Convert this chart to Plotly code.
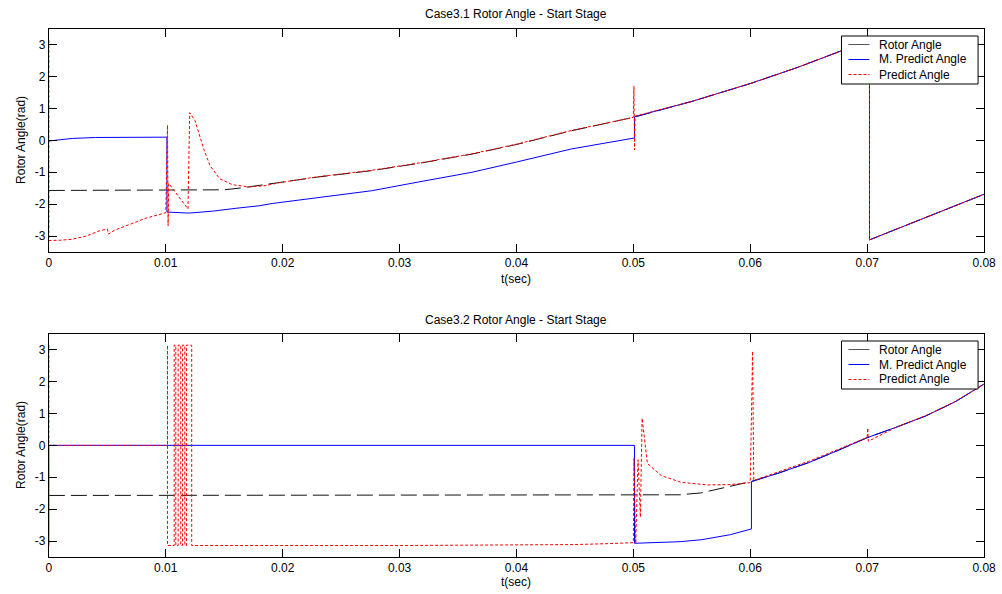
import plotly.graph_objects as go

# ---------------- data ----------------
x_ticks = [0, 0.01, 0.02, 0.03, 0.04, 0.05, 0.06, 0.07, 0.08]
x_tick_labels = ["0", "0.01", "0.02", "0.03", "0.04", "0.05", "0.06", "0.07", "0.08"]
y_ticks = [-3, -2, -1, 0, 1, 2, 3]
y_tick_labels = ["-3", "-2", "-1", "0", "1", "2", "3"]

series_names = ["Rotor Angle", "M. Predict Angle", "Predict Angle"]
titles = ["Case3.1 Rotor Angle - Start Stage", "Case3.2 Rotor Angle - Start Stage"]

# Case 3.1
c1_rotor_t = [0, 0.0140, 0.0150, 0.0165, 0.0180, 0.0191, 0.0200, 0.0230, 0.0276, 0.0320,
              0.0362, 0.0400, 0.0447, 0.0500, 0.0550, 0.0600, 0.0640, 0.0677, 0.0702, 0.0702,
              0.0750, 0.0800]
c1_rotor_v = [-1.571, -1.571, -1.55, -1.49, -1.41, -1.34, -1.30, -1.15, -0.95, -0.70,
              -0.43, -0.13, 0.30, 0.72, 1.22, 1.78, 2.28, 2.80, 3.14, -3.12,
              -2.42, -1.69]

c1_mpred_t = [0, 0.001, 0.002, 0.004, 0.0101, 0.0101, 0.0102, 0.0120, 0.0140, 0.0160,
              0.0180, 0.0191, 0.0230, 0.0276, 0.0320, 0.0362, 0.0400, 0.0447, 0.0501, 0.0501,
              0.0550, 0.0600, 0.0640, 0.0677, 0.0702, 0.0702, 0.0750, 0.0800]
c1_mpred_v = [-0.02, 0.03, 0.06, 0.09, 0.10, -2.24, -2.25, -2.28, -2.22, -2.13,
              -2.05, -1.98, -1.80, -1.58, -1.28, -1.00, -0.68, -0.27, 0.075, 0.74,
              1.22, 1.78, 2.28, 2.80, 3.14, -3.12, -2.42, -1.69]

c1_pred_t = [0, 0, 0.0010, 0.0020, 0.0032, 0.0043, 0.0050, 0.0051, 0.0056, 0.0069,
             0.0083, 0.0100, 0.01015, 0.0102, 0.01025, 0.0119, 0.01205, 0.0125, 0.0133, 0.0138,
             0.0146, 0.0157, 0.0171, 0.0185, 0.0197, 0.0230, 0.0276, 0.0320, 0.0362, 0.0400,
             0.0447, 0.0500, 0.05005, 0.0501, 0.05015, 0.0550, 0.0600, 0.0640, 0.0677, 0.0702,
             0.0702, 0.0750, 0.0800]
c1_pred_v = [3.14, -3.14, -3.13, -3.10, -3.00, -2.84, -2.78, -2.94, -2.82, -2.63,
             -2.44, -2.27, 0.48, -2.68, -1.35, -2.15, 0.87, 0.62, -0.33, -0.80,
             -1.20, -1.39, -1.46, -1.42, -1.33, -1.14, -0.94, -0.69, -0.42, -0.12,
             0.31, 0.72, 1.70, -0.30, 0.76, 1.22, 1.78, 2.28, 2.80, 3.14,
             -3.12, -2.42, -1.69]

# Case 3.2
c2_rotor_t = [0, 0.0520, 0.0540, 0.0558, 0.0569, 0.0583, 0.0600, 0.0625, 0.0650, 0.0675,
              0.0700, 0.0725, 0.0750, 0.0775, 0.0800]
c2_rotor_v = [-1.571, -1.571, -1.55, -1.49, -1.40, -1.28, -1.14, -0.86, -0.54, -0.16,
              0.24, 0.57, 0.92, 1.36, 1.92]

c2_mpred_t = [0, 0.0501, 0.0501, 0.0520, 0.0540, 0.0558, 0.0583, 0.0601, 0.0601, 0.0625,
              0.0650, 0.0675, 0.0700, 0.0725, 0.0750, 0.0775, 0.0800]
c2_mpred_v = [0, 0, -3.07, -3.05, -3.02, -2.96, -2.80, -2.62, -1.14, -0.86,
              -0.54, -0.16, 0.24, 0.57, 0.92, 1.36, 1.92]

c2_pred_t = [0, 0, 0, 0.01015, 0.01015, 0.01015, 0.01072, 0.01072, 0.01086, 0.01086,
             0.01106, 0.01106, 0.01128, 0.01128, 0.01143, 0.01143, 0.01163, 0.01163, 0.01177, 0.01177,
             0.01222, 0.01222, 0.0300, 0.0400, 0.0450, 0.0480, 0.0500, 0.05005, 0.0502, 0.0504,
             0.0506, 0.05075, 0.0512, 0.0524, 0.0541, 0.0564, 0.0583, 0.0600, 0.0602, 0.0603,
             0.0625, 0.0650, 0.0675, 0.0700, 0.07005, 0.0701, 0.0725, 0.0750, 0.0775, 0.0800]
c2_pred_v = [3.14, -3.14, 0, 0, 3.14, -3.14, -3.14, 3.14, 3.14, -3.14,
             -3.14, 3.14, 3.14, -3.14, -3.14, 3.14, 3.14, -3.14, -3.14, 3.14,
             3.14, -3.14, -3.14, -3.13, -3.11, -3.08, -3.05, -0.40, -3.08, -0.45,
             -2.25, 0.85, -0.57, -0.95, -1.16, -1.24, -1.23, -1.17, 2.95, -1.10,
             -0.83, -0.50, -0.13, 0.25, 0.54, 0.13, 0.57, 0.93, 1.37, 1.92]

# ---------------- figure ----------------
# The page renders the plot about 12 px narrower than layout.width, so the
# layout width is padded to end up with a 1002 px wide drawing area.
W, H = 1002, 594
LAYOUT_W = 1014
FONT = "Liberation Sans, Arial, sans-serif"


def px_x(p):
    return p / W


def px_y(p):
    return 1 - p / H


x_dom = [px_x(46), px_x(984)]
y_dom_top = [px_y(252), px_y(28.7)]
y_dom_bot = [px_y(557), px_y(333.7)]

fig = go.Figure()

rotor_line = dict(color="#111111", width=1, dash="16px,6px")
rotor_legend_line = dict(color="#555555", width=1)
mpred_line = dict(color="#0000ff", width=1)
pred_line = dict(color="#ff0000", width=1, dash="3px,2px")
legend_lines = [rotor_legend_line, mpred_line, pred_line]

panels = [
    (c1_rotor_t, c1_rotor_v, c1_mpred_t, c1_mpred_v, c1_pred_t, c1_pred_v, "x", "y"),
    (c2_rotor_t, c2_rotor_v, c2_mpred_t, c2_mpred_v, c2_pred_t, c2_pred_v, "x2", "y2"),
]
for rt, rv, mt, mv, pt, pv, xa, ya in panels:
    fig.add_trace(go.Scatter(x=rt, y=rv, mode="lines", line=dict(rotor_line), xaxis=xa, yaxis=ya,
                             name=series_names[0]))
    fig.add_trace(go.Scatter(x=mt, y=mv, mode="lines", line=dict(mpred_line), xaxis=xa, yaxis=ya,
                             name=series_names[1]))
    fig.add_trace(go.Scatter(x=pt, y=pv, mode="lines", line=dict(pred_line), xaxis=xa, yaxis=ya,
                             name=series_names[2]))

axis_common = dict(ticks="inside", ticklen=8, tickcolor="black", tickwidth=1,
                   showline=True, linecolor="black", linewidth=1, mirror="allticks",
                   showgrid=False, zeroline=False,
                   tickfont=dict(family=FONT, size=12, color="black"))

xcfg = dict(range=[0, 0.08], tickvals=x_ticks, ticktext=x_tick_labels, domain=x_dom, **axis_common)
ycfg = dict(range=[-3.5, 3.5], tickvals=y_ticks, ticktext=y_tick_labels, **axis_common)

fig.update_layout(
    width=LAYOUT_W, height=H,
    margin=dict(l=0, r=0, t=0, b=0),
    paper_bgcolor="white", plot_bgcolor="white",
    showlegend=False,
    font=dict(family=FONT, size=12, color="black"),
    xaxis=dict(anchor="y", **xcfg),
    yaxis=dict(anchor="x", domain=y_dom_top, **ycfg),
    xaxis2=dict(anchor="y2", **xcfg),
    yaxis2=dict(anchor="x2", domain=y_dom_bot, **ycfg),
)

annots = []
shapes = []
for title, ty, xl_y, yl_c, leg_top in [(titles[0], 14, 279, 140, 36),
                                       (titles[1], 320, 582, 445, 341)]:
    annots.append(dict(text=title, x=px_x(515), y=px_y(ty), xref="paper", yref="paper",
                       showarrow=False, xanchor="center", yanchor="middle",
                       font=dict(family=FONT, size=12, color="black")))
    annots.append(dict(text="t(sec)", x=px_x(515), y=px_y(xl_y), xref="paper", yref="paper",
                       showarrow=False, xanchor="center", yanchor="middle",
                       font=dict(family=FONT, size=12, color="black")))
    annots.append(dict(text="Rotor Angle(rad)", x=px_x(18), y=px_y(yl_c), xref="paper", yref="paper",
                       showarrow=False, xanchor="center", yanchor="middle", textangle=-90,
                       font=dict(family=FONT, size=12, color="black")))
    # legend box (drawn like the MATLAB legend)
    shapes.append(dict(type="rect", xref="paper", yref="paper", layer="above",
                       x0=px_x(841), x1=px_x(978), y0=px_y(leg_top + 48), y1=px_y(leg_top),
                       line=dict(color="black", width=1), fillcolor="white"))
    for i, (nm, ln) in enumerate(zip(series_names, legend_lines)):
        yy = leg_top + 8.5 + 15 * i
        shapes.append(dict(type="line", xref="paper", yref="paper", layer="above",
                           x0=px_x(848), x1=px_x(869), y0=px_y(yy), y1=px_y(yy), line=dict(ln)))
        annots.append(dict(text=nm, x=px_x(877), y=px_y(yy), xref="paper", yref="paper",
                           showarrow=False, xanchor="left", yanchor="middle",
                           font=dict(family=FONT, size=12, color="black")))

fig.update_layout(annotations=annots, shapes=shapes)

fig.write_html("out.html")
